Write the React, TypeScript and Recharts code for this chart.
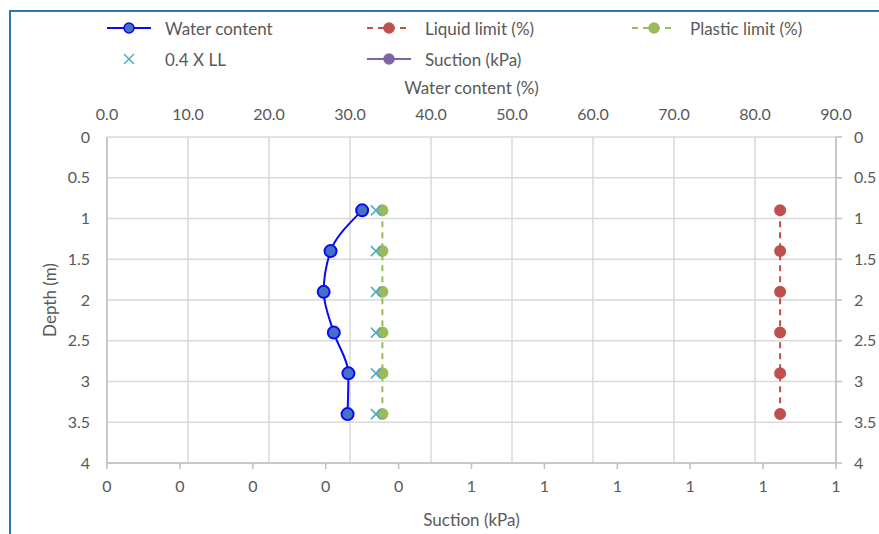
import React from 'react';
import { ComposedChart, Line, XAxis, YAxis, CartesianGrid, Label } from 'recharts';

const depths = [0.9, 1.4, 1.9, 2.4, 2.9, 3.4];
const waterContent = [31.5, 27.6, 26.75, 28.0, 29.8, 29.7];
const liquidLimit = [83.1, 83.1, 83.1, 83.1, 83.1, 83.1];
const plasticLimit = [34.0, 34.0, 34.0, 34.0, 34.0, 34.0];
const ll04 = [33.2, 33.2, 33.2, 33.2, 33.2, 33.2];
const suction: (number | null)[] = [null, null, null, null, null, null];

const depthTicks = [0, 0.5, 1, 1.5, 2, 2.5, 3, 3.5, 4];
const wcTicks = [0, 10, 20, 30, 40, 50, 60, 70, 80, 90];
const suctionTicks = [0, 0.1, 0.2, 0.3, 0.4, 0.5, 0.6, 0.7, 0.8, 0.9, 1];

const data = depths.map((d, i) => ({
  depth: d,
  wc: waterContent[i],
  ll: liquidLimit[i],
  pl: plasticLimit[i],
  ll04: ll04[i],
  suction: suction[i],
}));

const FONT = 'Lato, "Open Sans", sans-serif';
const TEXT = '#595959';
const GRID = '#d9d9d9';
const AXIS = '#bfbfbf';

const C = {
  wcLine: '#0a0af5',
  wcFill: '#4472c4',
  ll: '#c0504d',
  pl: '#9bbb59',
  x: '#4bacc6',
  suction: '#8064a2',
};

const tick = { fill: TEXT, fontSize: 16, fontFamily: FONT };

const dotCircle = (fill: string, stroke: string, r: number) => (props: any) => {
  const { cx, cy, index } = props;
  if (cx == null || cy == null) return <g key={index} />;
  return <circle key={index} cx={cx} cy={cy} r={r} fill={fill} stroke={stroke} strokeWidth={2} />;
};

const dotX = (props: any) => {
  const { cx, cy, index } = props;
  if (cx == null || cy == null) return <g key={index} />;
  const s = 5;
  return (
    <g key={index} stroke={C.x} strokeWidth={1.5}>
      <line x1={cx - s} y1={cy - s} x2={cx + s} y2={cy + s} />
      <line x1={cx - s} y1={cy + s} x2={cx + s} y2={cy - s} />
    </g>
  );
};

const legendItems = [
  { name: 'Water content', kind: 'line', color: C.wcLine, fill: C.wcFill },
  { name: 'Liquid limit (%)', kind: 'dash', color: C.ll, fill: C.ll },
  { name: 'Plastic limit (%)', kind: 'dash', color: C.pl, fill: C.pl },
  { name: '0.4 X LL', kind: 'x', color: C.x, fill: C.x },
  { name: 'Suction (kPa)', kind: 'line', color: C.suction, fill: C.suction },
];

function LegendIcon({ kind, color, fill }: { kind: string; color: string; fill: string }) {
  return (
    <svg width={44} height={14} style={{ display: 'block' }}>
      {kind === 'line' && <line x1={0} y1={7} x2={44} y2={7} stroke={color} strokeWidth={2} />}
      {kind === 'dash' && (
        <line x1={0} y1={7} x2={44} y2={7} stroke={color} strokeWidth={2} strokeDasharray="6 5" />
      )}
      {kind === 'x' ? (
        <g stroke={color} strokeWidth={1.5}>
          <line x1={17} y1={2} x2={27} y2={12} />
          <line x1={17} y1={12} x2={27} y2={2} />
        </g>
      ) : (
        <circle cx={22} cy={7} r={5} fill={fill} stroke={kind === 'line' ? color : fill} strokeWidth={1.5} />
      )}
    </svg>
  );
}

export default function App() {
  return (
    <div style={{ position: 'absolute', left: 0, top: 0, width: 879, height: 534, background: '#fff', overflow: 'hidden' }}>
      <div
        style={{
          position: 'absolute',
          left: 9,
          top: 10,
          width: 900,
          height: 600,
          borderLeft: '2px solid #2e75b6',
          borderTop: '2px solid #2e75b6',
        }}
      />
      <div
        style={{
          position: 'absolute',
          left: 107,
          top: 17,
          display: 'grid',
          gridTemplateColumns: '260px 265px 220px',
          rowGap: 9,
          fontFamily: FONT,
          fontSize: 17,
          color: TEXT,
        }}
      >
        {legendItems.map(it => (
          <div key={it.name} style={{ display: 'flex', alignItems: 'center', height: 22 }}>
            <LegendIcon kind={it.kind} color={it.color} fill={it.fill} />
            <span style={{ marginLeft: 14 }}>{it.name}</span>
          </div>
        ))}
      </div>
      <ComposedChart
        width={879}
        height={534}
        layout="vertical"
        data={data}
        margin={{ top: 0, right: 0, bottom: 0, left: 0 }}
        style={{ position: 'absolute', left: 0, top: 0 }}
      >
        <CartesianGrid xAxisId="wc" yAxisId="left" stroke={GRID} strokeWidth={1.5} />
        <XAxis
          xAxisId="wc"
          type="number"
          orientation="top"
          domain={[0, 90]}
          ticks={wcTicks}
          tickFormatter={(v: number) => v.toFixed(1)}
          height={137}
          axisLine={false}
          tickLine={false}
          tickSize={6}
          tickMargin={11}
          tick={tick}
          interval={0}
        >
          <Label value="Water content (%)" position="insideTop" offset={82} fill={TEXT} fontSize={17} fontFamily={FONT} />
        </XAxis>
        <XAxis
          xAxisId="suction"
          type="number"
          orientation="bottom"
          domain={[0, 1]}
          allowDataOverflow
          ticks={suctionTicks}
          tickFormatter={(v: number) => String(Math.round(v))}
          height={71}
          axisLine={{ stroke: AXIS, strokeWidth: 1.5 }}
          tickLine={{ stroke: AXIS, strokeWidth: 1.5 }}
          tickSize={6}
          tickMargin={12}
          tick={tick}
          interval={0}
        >
          <Label value="Suction (kPa)" position="insideBottom" offset={8} fill={TEXT} fontSize={17} fontFamily={FONT} />
        </XAxis>
        <YAxis
          yAxisId="left"
          type="number"
          dataKey="depth"
          domain={[0, 4]}
          ticks={depthTicks}
          width={107}
          axisLine={{ stroke: AXIS, strokeWidth: 1.5 }}
          tickLine={false}
          tickSize={6}
          tickMargin={11}
          tick={tick}
          interval={0}
        >
          <Label value="Depth (m)" angle={-90} position="center" dx={-4} fill={TEXT} fontSize={17} fontFamily={FONT} />
        </YAxis>
        <YAxis
          yAxisId="right"
          type="number"
          dataKey="depth"
          orientation="right"
          domain={[0, 4]}
          ticks={depthTicks}
          width={43}
          axisLine={{ stroke: AXIS, strokeWidth: 1.5 }}
          tickLine={{ stroke: AXIS, strokeWidth: 1.5 }}
          tickSize={6}
          tickMargin={12}
          tick={tick}
          interval={0}
        />
        <Line
          xAxisId="wc"
          yAxisId="left"
          dataKey="ll"
          type="linear"
          stroke={C.ll}
          strokeWidth={2}
          strokeDasharray="6 5"
          dot={dotCircle(C.ll, C.ll, 5)}
          isAnimationActive={false}
        />
        <Line
          xAxisId="wc"
          yAxisId="left"
          dataKey="pl"
          type="linear"
          stroke={C.pl}
          strokeWidth={2}
          strokeDasharray="6 5"
          dot={dotCircle(C.pl, C.pl, 5)}
          isAnimationActive={false}
        />
        <Line
          xAxisId="wc"
          yAxisId="left"
          dataKey="ll04"
          stroke="none"
          dot={dotX}
          isAnimationActive={false}
        />
        <Line
          xAxisId="wc"
          yAxisId="left"
          dataKey="wc"
          type="monotone"
          stroke={C.wcLine}
          strokeWidth={2}
          dot={dotCircle(C.wcFill, C.wcLine, 6)}
          isAnimationActive={false}
        />
        <Line
          xAxisId="suction"
          yAxisId="left"
          dataKey="suction"
          stroke={C.suction}
          strokeWidth={2}
          dot={false}
          isAnimationActive={false}
        />
      </ComposedChart>
    </div>
  );
}
